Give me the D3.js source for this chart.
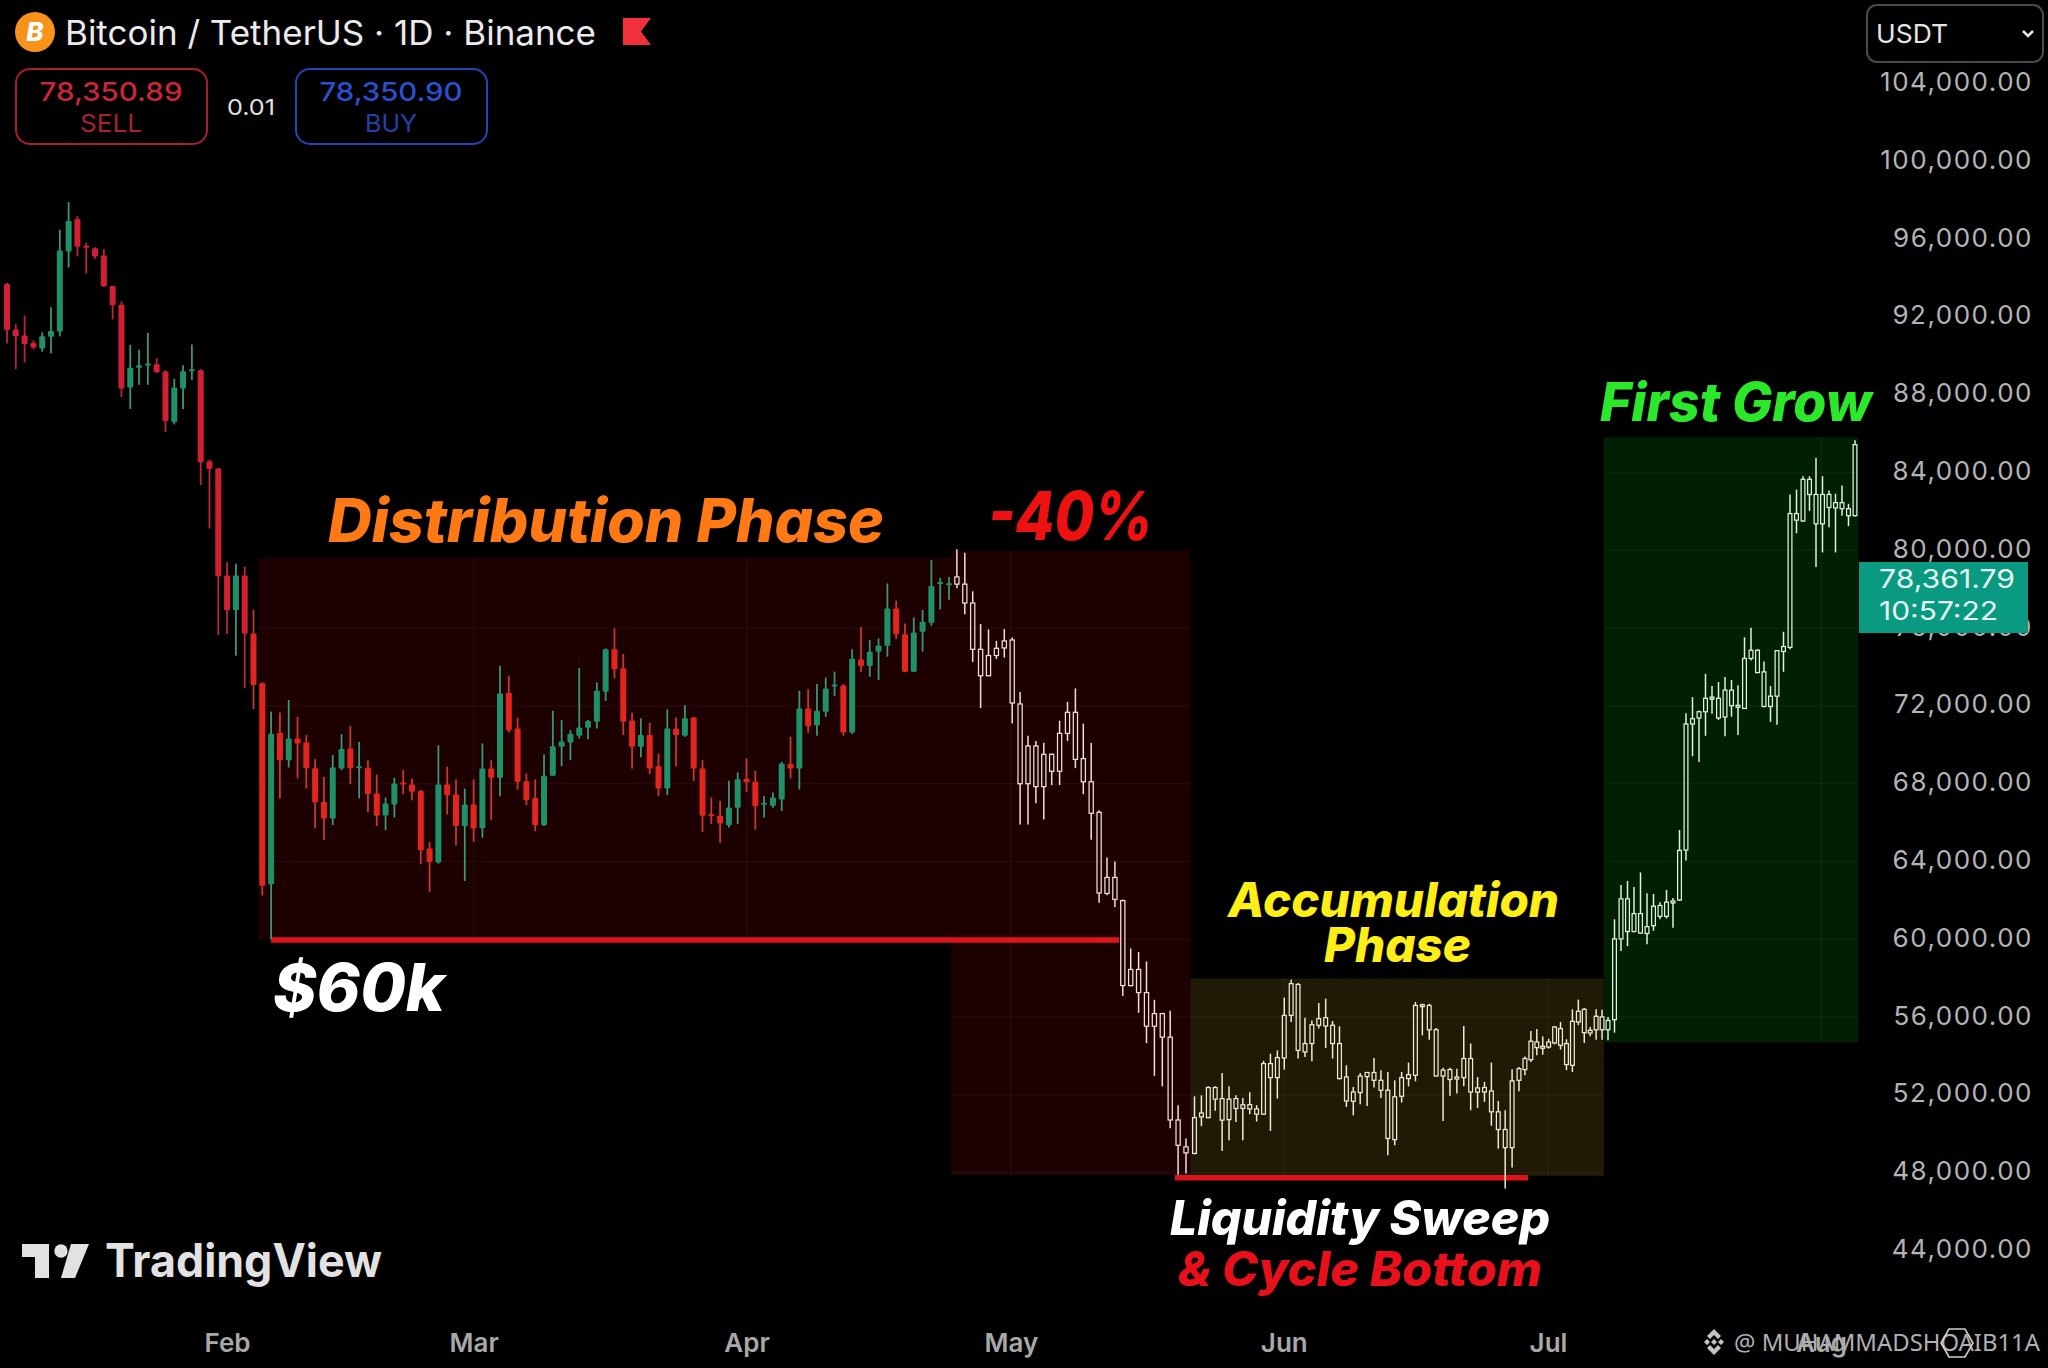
<!DOCTYPE html>
<html>
<head>
<meta charset="utf-8">
<title>Bitcoin / TetherUS 1D</title>
<script src="https://cdn.jsdelivr.net/npm/d3@7/dist/d3.min.js"></script>
<style>
  html, body { margin: 0; padding: 0; background: #000; }
  svg { display: block; }
</style>
</head>
<body>
<svg id="chart" width="2048" height="1368"></svg>
<script>
// candles are [open, high, low, close]

// the slide into the range
var declineCandles = [
  [93690,93740,90630,91330],[91350,91630,89310,91000],[91050,92070,89660,90610],[90660,90800,90330,90430],
  [90380,91200,90210,91000],[90980,92500,90130,91280],[91250,96480,91000,95410],[95360,97900,94540,96930],
  [97030,97180,95110,95610],[95660,95810,94240,95560],[95530,95580,94990,95110],[95160,95480,93540,93570],
  [93590,93590,91870,92600],[92620,92800,87890,88320],[88370,90560,87270,89390],[89390,90310,88510,89510],
  [89510,91180,88510,89610],[89560,89880,89110,89160],[89190,89260,86080,86650],[86600,88810,86470,88370],
  [88320,89510,87270,89210],[89210,90580,88760,89310],[89260,89310,83360,84530],[84580,84660,81120,84180],
  [84210,84230,75650,78660],[78710,79400,75700,76920],[76920,79310,74580,78710],[78710,79160,72910,75720],
  [75720,76940,71840,73080],[73160,73210,62260,62750],[62830,71710,60000,70570]
];

var distributionCandles = [
  [70620,71660,67240,69210],[69210,72300,68830,70330],[70330,71440,68270,70070],[70120,70500,67750,68800],
  [68800,69260,65700,67050],[67070,68350,65100,66210],[66210,69470,65870,68830],[68780,70550,68700,69780],
  [69810,70960,67980,68800],[68820,70150,67240,68900],[68820,69210,66550,67460],[67500,68470,65830,66350],
  [66360,67290,65610,66980],[66930,68300,66260,68010],[68060,68700,67460,67990],[67960,68270,67150,67580],
  [67630,67670,63860,64580],[64670,65010,62440,63980],[63950,69980,63890,67960],[67960,68870,66420,67410],
  [67450,68220,64840,65820],[65820,67750,63000,66930],[66930,68220,65010,65700],[65710,70070,65220,68780],
  [68780,69210,66120,68300],[68300,74060,67360,72640],[72680,73550,70630,70750],[70840,71390,67700,68100],
  [68130,68530,66900,67150],[67270,68220,65560,65870],[65870,69500,65820,68410],[68410,71750,68390,69930],
  [69900,71270,68900,70170],[70120,70750,69210,70550],[70460,73960,70330,70890],[70880,71270,70290,71220],
  [71180,73210,70840,72780],[72730,74960,72250,74910],[74910,75990,73410,73880],[73930,74670,70500,71180],
  [71250,71650,68780,69900],[69900,71360,69350,70500],[70500,71130,68490,68780],[68900,69550,67360,67750],
  [67750,71820,67410,70840],[70840,71410,68900,70500],[70460,72040,70410,71360],[71410,71440,68150,68780],
  [68780,69210,65520,66350],[66430,67290,65920,66350],[66350,67120,64960,65950],[65870,68150,65750,66780],
  [66760,68580,65920,68230],[68250,69300,67580,68080],[68100,68660,65640,66840],[66950,67360,66260,67020],
  [66860,67550,66760,67290],[67190,69130,66600,69040],[69010,70410,68270,68780],[68780,72780,67700,71870],
  [71870,72860,70620,70960],[71010,73120,70460,71750],[71700,73460,71440,72900],[73040,73760,72500,73100],
  [73050,73120,70460,70630],[70630,74910,70550,74430],[74390,76040,73760,74050],[74050,75390,73500,74790],
  [74790,75470,73330,75110],[75090,78300,74530,77010],[77010,77410,75440,75680],[75680,76240,73740,73760],
  [73760,76550,73740,75780],[75810,76930,74790,76330],[76280,79500,76120,78160],[78300,78590,76960,78370],
  [78240,78630,77460,78300]
];

// hollow ones from here on, pasted in closer together than the real daily spacing
var dropCandles = [
  [78630,80060,78050,78260],[78260,79880,76710,77290],[77290,77890,74260,74910],[74910,76210,71890,73550],
  [74590,75930,73530,73550],[74960,75340,74410,74590],[75340,75950,74480,74980],[75390,75520,71090,72150],
  [72100,72710,65900,68000],[69940,70460,65900,68000],[69940,70200,67000,67850],[69510,70110,66160,67850],
  [69510,69550,67930,68640],[70590,71240,67930,68640],[71670,72210,70200,70590],[71670,72900,68800,69250],
  [69290,71090,67460,68100],[68100,70090,65120,66480],[66530,66640,61880,62380],[63180,64210,62270,62360],
  [63180,64000,61660,62050],[61990,62050,57080,57620],[58450,59530,57580,57620],[58450,59350,56220,57260],
  [57260,58860,54660,55530],[56180,56890,52980,55530],[56180,56220,52440,54970],[54970,56330,50280,50710],
  [50710,51470,47900,49410],[49330,49760,47960,49020]
];

var accumulationCandles = [
  [50830,51930,48950,48990],[51070,51980,50390,50870],[52380,52440,50800,50830],[52380,52440,51180,51780],
  [51810,53130,49120,50700],[51780,52440,49670,50730],[51810,51980,50610,51300],[51490,51840,49670,51310],
  [51500,52140,51010,51280],[51280,51470,50630,51010],[53610,53750,50970,51010],[53610,54120,50150,52890],
  [53920,54290,51810,52890],[56090,57000,53300,53900],[57720,57920,55750,56090],[57680,57750,53870,54290],
  [54640,55970,53950,54210],[55610,55830,53730,54640],[55920,56720,55410,55580],[55970,56950,54410,55540],
  [55580,55800,53870,54640],[54640,55530,52790,52840],[52920,53520,51380,51690],[52150,52410,50950,51670],
  [52970,53130,51520,52120],[53150,53180,51430,52940],[53150,53900,52380,52750],[52750,53270,51840,52240],
  [52240,53180,48900,49760],[51900,52750,49410,49700],[52890,53180,51610,51930],[53040,53660,52440,52840],
  [56600,56780,52700,53010],[56640,56690,55060,56600],[56600,56690,54840,55350],[55350,55440,52960,52970],
  [53270,53400,50660,52970],[53300,53400,51950,52790],[52920,53350,52070,52820],[53870,55540,52440,52890],
  [53870,54640,51210,52150],[52360,52920,51330,52140],[52380,52670,51640,52150],[52200,53660,50410,51130],
  [51130,51690,49240,50220],[50220,51210,47190,49290],[52720,53320,48270,49290],[53350,53440,52190,52750],
  [53870,53980,53010,53300],[54760,55290,53690,53810],[54720,55390,54040,54430],[54500,55010,54070,54430],
  [54720,54890,54380,54460],[55490,55540,54600,54670],[55410,55750,54330,54550],[54640,54860,53270,53560],
  [55780,56400,53180,53520],[56300,56900,55580,55750],[56400,56470,54670,55200],[55320,55490,55010,55180],
  [56040,56400,54840,55350],[56010,56380,54840,55350]
];

var growCandles = [
  [55830,56010,54810,55350],[60020,61030,55200,55870],[62080,62790,59400,60020],[62080,63000,59650,60400],
  [61320,62690,60360,60400],[61320,63440,60280,60320],[60650,62370,59750,60300],[61700,62330,60440,60700],
  [61740,61910,61030,61180],[61910,62540,61070,61180],[61970,62120,60590,61910],[64570,65620,61970,62020],
  [71070,71620,64050,64590],[71340,72450,69410,71070],[71700,71760,69120,71380],[72390,73650,70460,71700],
  [72450,73020,71590,72390],[72390,73230,71280,71380],[72810,73480,70440,71430],[72810,73330,71450,72010],
  [72030,73060,70500,71970],[74440,75530,71850,71870],[74860,76020,74340,74440],[74860,74910,73690,73710],
  [73750,74280,71930,71970],[72500,73020,71180,71970],[74840,74860,71030,72500],[75050,75810,73750,74800],
  [81890,82870,74910,75010],[81890,83120,80880,81550],[83650,83810,81450,81510],[83650,83810,82030,82870],
  [82870,84760,79140,81360],[82870,83810,79890,81360],[82870,83080,81190,82200],[82450,82910,79890,82180],
  [82450,83330,81780,82140],[82140,82390,81240,81780],[85430,85660,81740,81780]
];

var priceTicks = [104000,100000,96000,92000,88000,84000,80000,76000,72000,68000,64000,60000,56000,52000,48000,44000];
var monthTicks = ['2025-02-01','2025-03-01','2025-04-01','2025-05-01','2025-06-01','2025-07-01','2025-08-01'];

var W = 2048, H = 1368;
var FONT = 'Inter, Roboto, "Liberation Sans", sans-serif';

var svg = d3.select('#chart').attr('viewBox', '0 0 ' + W + ' ' + H);
svg.append('rect').attr('width', W).attr('height', H).attr('fill', '#000');

// ── scales ──────────────────────────────────────────────────────────────
var y = d3.scaleLinear().domain([104000, 44000]).range([83.5, 1250.5]);

var xTime = d3.scaleUtc()
    .domain([new Date('2025-02-01'), new Date('2025-08-01')])
    .range([227, 1821]);

// piecewise: candle spacing shrinks after the real part of the chart ends
var xCandle = d3.scaleLinear()
    .domain([0, 107, 137, 138, 185, 200, 238])
    .range([7, 949, 1186, 1194.5, 1519, 1608, 1855]);

// ── zones ───────────────────────────────────────────────────────────────
var zones = [
    { from: 28.55, to: 107.6, low: 60000, high: 79620, fill: '#1d0002' },
    { from: 107.3, to: 137.5, low: 47870, high: 79980, fill: '#1d0002' },
    { from: 137.5, to: 199.3, low: 47820, high: 57990, fill: '#1f1905' },
    { from: 199.3, to: 238.5, low: 54700, high: 85820, fill: '#011f03' }
];

var clip = svg.append('defs').append('clipPath').attr('id', 'zoneClip');
zones.forEach(function (z) {
    [svg, clip].forEach(function (parent) {
        var r = parent.append('rect')
            .attr('x', xCandle(z.from)).attr('y', y(z.high))
            .attr('width', xCandle(z.to) - xCandle(z.from))
            .attr('height', y(z.low) - y(z.high));
        if (parent === svg) r.attr('fill', z.fill);
    });
});

// grid only really shows up on the tinted zones
var grid = svg.append('g').attr('clip-path', 'url(#zoneClip)')
    .attr('stroke', '#fff').attr('stroke-opacity', 0.04).attr('stroke-width', 1.5);
priceTicks.forEach(function (p) {
    grid.append('line').attr('x1', 0).attr('x2', 1870).attr('y1', y(p)).attr('y2', y(p));
});
monthTicks.forEach(function (m) {
    var mx = xTime(new Date(m));
    grid.append('line').attr('x1', mx).attr('x2', mx).attr('y1', 0).attr('y2', 1300);
});

// ── red level lines (under the candles) ─────────────────────────────────
function levelLine(price, fromIdx, toX) {
    svg.append('line')
        .attr('x1', xCandle(fromIdx)).attr('x2', toX)
        .attr('y1', y(price)).attr('y2', y(price))
        .attr('stroke', '#e0121a').attr('stroke-width', 5.5);
}
levelLine(59960, 30, 1119);
levelLine(47740, 135.6, 1528);

// ── candles ─────────────────────────────────────────────────────────────
var filled = declineCandles.concat(distributionCandles);
var hollowStart = filled.length;
var dropEnd = hollowStart + dropCandles.length;
var accEnd = dropEnd + accumulationCandles.length;
var candles = filled.concat(dropCandles, accumulationCandles, growCandles);

function hollowColor(i) {
    if (i < dropEnd) return '#f4dcdc';
    if (i < accEnd) return '#efead2';
    return '#dff2dc';
}

var bodyW = 6;
var gc = svg.append('g').selectAll('g').data(candles).join('g');

gc.each(function (d, i) {
    var g = d3.select(this);
    var cx = xCandle(i);
    var top = y(Math.max(d[0], d[3]));
    var bot = y(Math.min(d[0], d[3]));
    if (i < hollowStart) {
        var up = d[3] >= d[0];
        var col = up ? '#1f9067' : (i < 28 ? '#d21f33' : '#e2261f');
        var wick = up ? '#3f9377' : (i < 28 ? '#b8283a' : '#c23a34');
        g.append('line').attr('x1', cx).attr('x2', cx).attr('y1', y(d[1])).attr('y2', y(d[2]))
            .attr('stroke', wick).attr('stroke-width', 1.8);
        g.append('rect').attr('x', cx - bodyW / 2).attr('y', top)
            .attr('width', bodyW).attr('height', Math.max(bot - top, 2))
            .attr('rx', 1).attr('fill', col);
    } else {
        var c = hollowColor(i);
        var bw = i < dropEnd ? 4.2 : 3.8;
        g.append('line').attr('x1', cx).attr('x2', cx).attr('y1', y(d[1])).attr('y2', top)
            .attr('stroke', c).attr('stroke-width', 1.5);
        g.append('line').attr('x1', cx).attr('x2', cx).attr('y1', bot).attr('y2', y(d[2]))
            .attr('stroke', c).attr('stroke-width', 1.5);
        g.append('rect').attr('x', cx - bw / 2).attr('y', top)
            .attr('width', bw).attr('height', Math.max(bot - top, 2))
            .attr('fill', 'none').attr('stroke', c).attr('stroke-width', 1.25);
    }
});

// ── axes ────────────────────────────────────────────────────────────────
var yAxis = svg.append('g').attr('transform', 'translate(2033,0)')
    .call(d3.axisLeft(y).tickValues(priceTicks).tickSize(0).tickPadding(0).tickFormat(d3.format(',.2f')));
yAxis.select('.domain').remove();
yAxis.selectAll('text')
    .attr('font-family', FONT).attr('font-size', 26).attr('fill', '#b4b4b4')
    .attr('letter-spacing', 1.5).attr('dy', '0.27em');

var xAxis = svg.append('g').attr('transform', 'translate(0,1352)')
    .call(d3.axisBottom(xTime)
        .tickValues(monthTicks.map(function (m) { return new Date(m); }))
        .tickSize(0).tickPadding(0).tickFormat(d3.utcFormat('%b')));
xAxis.select('.domain').remove();
xAxis.selectAll('text')
    .attr('font-family', FONT).attr('font-size', 26).attr('font-weight', 600)
    .attr('fill', '#a8a8a8').attr('y', 0).attr('dy', 0);

// ── text helper ─────────────────────────────────────────────────────────
function txt(str, x, base, size, fill, opts) {
    opts = opts || {};
    var t = svg.append('text').attr('x', x).attr('y', base)
        .attr('font-family', opts.family || FONT).attr('font-size', size).attr('fill', fill)
        .attr('font-weight', opts.weight || 400)
        .text(str);
    if (opts.italic) t.attr('font-style', 'italic');
    if (opts.anchor) t.attr('text-anchor', opts.anchor);
    if (opts.len) t.attr('textLength', opts.len).attr('lengthAdjust', 'spacingAndGlyphs');
    return t;
}
function callout(str, x, base, size, fill, len) {
    return txt(str, x, base, size, fill, { weight: 800, italic: true, len: len });
}

// ── annotations ─────────────────────────────────────────────────────────
callout('Distribution Phase', 328, 542, 60, '#ff7a14', 556);
callout('-40%', 988, 540, 68, '#ee1111', 165);
callout('First Grow', 1600, 421, 54, '#2be82b', 272);
callout('$60k', 273, 1011, 66, '#ffffff', 172);
callout('Accumulation', 1228, 917, 48, '#ffee18', 331);
callout('Phase', 1324, 962, 48, '#ffee18', 147);
callout('Liquidity Sweep', 1170, 1235, 48, '#ffffff', 380);
callout('& Cycle Bottom', 1178, 1286, 48, '#e8101a', 364);

// ── header ──────────────────────────────────────────────────────────────
svg.append('circle').attr('cx', 35).attr('cy', 32).attr('r', 20).attr('fill', '#f7931a');
txt('B', 35, 41, 26, '#fff', { weight: 800, anchor: 'middle', italic: true });
txt('Bitcoin / TetherUS · 1D · Binance', 65, 45, 34, '#ebebeb', { len: 531 });
svg.append('path').attr('d', 'M623,18H651L641,31.5L651,45H623Z').attr('fill', '#f0303a');

function quoteBox(x, stroke, price, priceFill, side, sideFill) {
    svg.append('rect').attr('x', x).attr('y', 69).attr('width', 191).attr('height', 75)
        .attr('rx', 14).attr('fill', 'none').attr('stroke', stroke).attr('stroke-width', 2);
    txt(price, x + 95, 101, 26, priceFill, { anchor: 'middle', weight: 500, len: 143 });
    txt(side, x + 95, 132, 24, sideFill, { anchor: 'middle', len: side === 'SELL' ? 62 : 52 });
}
quoteBox(16, '#a81f2e', '78,350.89', '#c9263a', 'SELL', '#a8222f');
quoteBox(296, '#2445b4', '78,350.90', '#2a50d0', 'BUY', '#2440a8');
txt('0.01', 251, 115, 22, '#e0e0e0', { anchor: 'middle', len: 48 });

svg.append('rect').attr('x', 1867).attr('y', 5).attr('width', 176).attr('height', 57)
    .attr('rx', 10).attr('fill', '#000').attr('stroke', '#4a4a4a').attr('stroke-width', 2);
txt('USDT', 1876, 43, 26, '#e6e6e6', { len: 72 });
svg.append('path').attr('d', 'M2023,31L2028,36L2033,31').attr('fill', 'none')
    .attr('stroke', '#e6e6e6').attr('stroke-width', 2.5);

// ── last price tag ──────────────────────────────────────────────────────
svg.append('rect').attr('x', 1859).attr('y', 562).attr('width', 169).attr('height', 71).attr('fill', '#0a9a82');
txt('78,361.79', 1879, 588, 26, '#e6f6f1', { len: 136 });
txt('10:57:22', 1879, 620, 26, '#e6f6f1', { len: 119 });

// ── TradingView logo ────────────────────────────────────────────────────
svg.append('path').attr('d', 'M22,1244H49V1278H35V1257H22Z').attr('fill', '#e2e2e2');
svg.append('circle').attr('cx', 61).attr('cy', 1251).attr('r', 6.7).attr('fill', '#e2e2e2');
svg.append('path').attr('d', 'M71,1244H89L75,1278H61Z').attr('fill', '#e2e2e2');
txt('TradingView', 105, 1277, 46, '#e2e2e2', { weight: 700, len: 277 });

// ── watermark ───────────────────────────────────────────────────────────
var wm = svg.append('g').attr('fill', '#c4c4c4');
wm.append('path').attr('d',
    'M1714,1329L1721,1336L1718,1339L1714,1335L1710,1339L1707,1336Z' +
    'M1714,1355L1707,1348L1710,1345L1714,1349L1718,1345L1721,1348Z' +
    'M1714,1339L1717,1342L1714,1345L1711,1342Z' +
    'M1704,1342L1707,1339L1710,1342L1707,1345Z' +
    'M1724,1342L1721,1339L1718,1342L1721,1345Z');
txt('@ MUHAMMADSHOAIB11A', 1734, 1351, 24, '#b0b0b0', { family: '"Noto Sans", sans-serif', len: 306 });
svg.append('path').attr('d', 'M1949,1329H1965L1973,1343L1965,1357H1949L1941,1343Z')
    .attr('fill', 'none').attr('stroke', '#d0d0d0').attr('stroke-width', 1.6);
</script>
</body>
</html>
